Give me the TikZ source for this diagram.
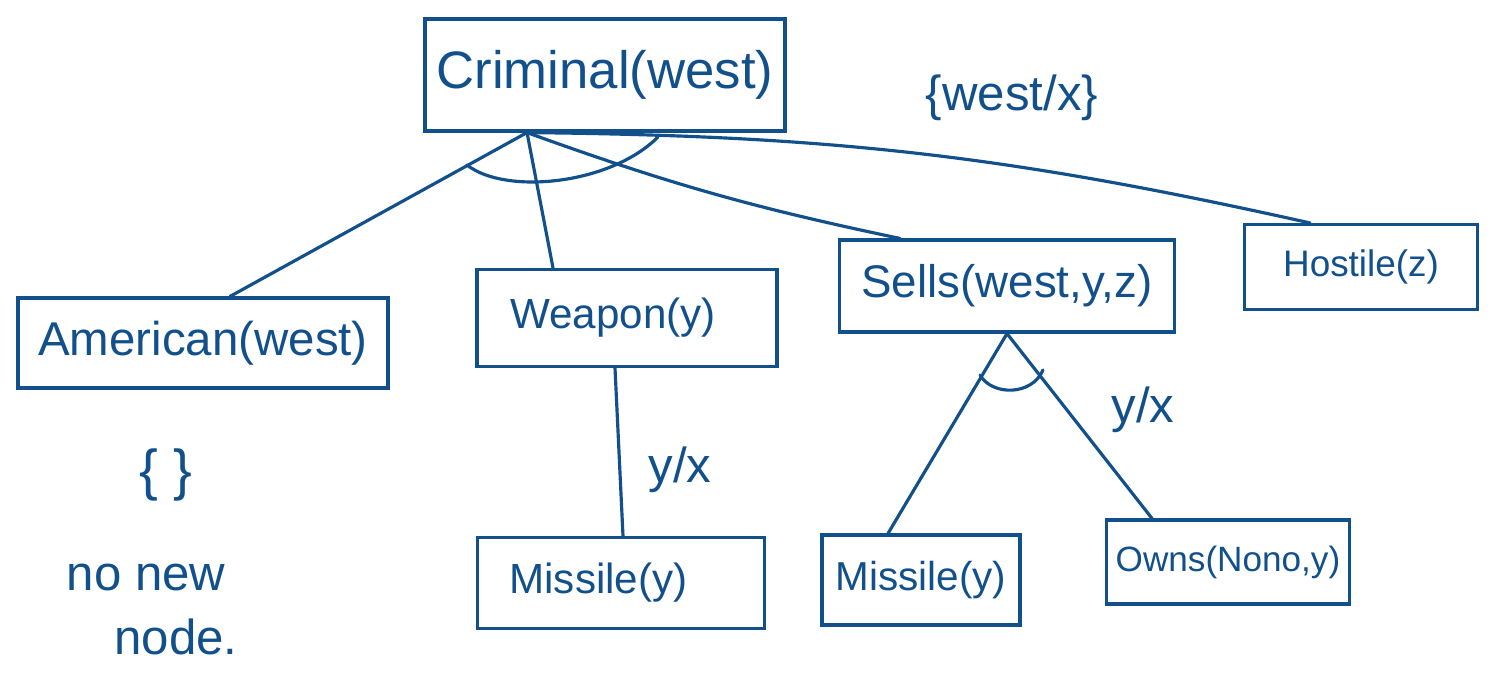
\documentclass[tikz,border=0pt]{standalone}
\usepackage{fontspec}
\setmainfont{Liberation Sans}
\newcommand\hwsize[1]{\fontsize{#1}{#1}\selectfont}
\definecolor{ink}{RGB}{18,80,140}
\tikzset{
  box/.style={draw=ink, line width=1.8pt, text=ink, inner sep=0pt, align=center},
  lbl/.style={text=ink, inner sep=0pt, align=center},
  link/.style={draw=ink, line width=1.8pt, line cap=round}
}
\begin{document}
\begin{tikzpicture}[x=0.02cm,y=-0.02cm]
\useasboundingbox (0,0) rectangle (1495,674);
\fill[white] (0,0) rectangle (1495,674);

% boxes
\node[box, minimum width=7.2cm, minimum height=2.24cm, font=\hwsize{30}] (crim) at (605,75) {Criminal(west)};
\node[box, minimum width=7.4cm, minimum height=1.8cm, font=\hwsize{27}] (amer) at (203,343) {American(west)};
\node[box, minimum width=6cm, minimum height=1.94cm, font=\hwsize{24}] (weap) at (627,318) {Weapon(y)\hspace*{0.56cm}};
\node[box, minimum width=6.7cm, minimum height=1.84cm, font=\hwsize{26}] (sells) at (1007,286) {Sells(west,y,z)};
\node[box, minimum width=4.66cm, minimum height=1.7cm, font=\hwsize{21}] (host) at (1361,267) {Hostile(z)};
\node[box, minimum width=5.74cm, minimum height=1.82cm, font=\hwsize{24}] (mis1) at (621,583) {Missile(y)\hspace*{0.9cm}};
\node[box, minimum width=3.96cm, minimum height=1.8cm, font=\hwsize{23}] (mis2) at (921,580) {Missile(y)};
\node[box, minimum width=4.86cm, minimum height=1.68cm, font=\hwsize{20}] (owns) at (1228,562) {Owns(Nono,y)};

% free labels
\node[lbl, font=\hwsize{28}] (wx) at (1012,98) {\{west/x\}};
\node[lbl, font=\hwsize{32}] (empty) at (166,475) {\{\ \}};
\node[lbl, font=\hwsize{28}] (nonew1) at (146,577) {no new};
\node[lbl, font=\hwsize{28}] (nonew2) at (176,637) {node.};
\node[lbl, font=\hwsize{28}] (yx1) at (680,470) {y/x};
\node[lbl, font=\hwsize{28}] (yx2) at (1143,410) {y/x};

% connectors from Criminal
\coordinate (hub) at ([xshift=-1.56cm]crim.south);
\draw[link] (hub) -- ([xshift=0.54cm]amer.north);
\draw[link] (hub) -- ([xshift=-1.48cm]weap.north);
\draw[link] (hub) to[bend right=4] ([xshift=-2.14cm]sells.north);
\draw[link] (hub) to[bend left=6] ([xshift=-1.02cm]host.north);
\draw[link] (467,165) .. controls (505,195) and (610,185) .. (658,137);

% Weapon -> Missile
\draw[link] ([xshift=-0.24cm]weap.south) -- ([xshift=0.04cm]mis1.north);

% Sells -> Missile, Owns
\draw[link] (sells.south) -- ([xshift=-0.66cm]mis2.north);
\draw[link] (sells.south) -- ([xshift=-1.52cm]owns.north);
\draw[link] (980,375) .. controls (992,396) and (1032,396) .. (1043,370);
\end{tikzpicture}
\end{document}
